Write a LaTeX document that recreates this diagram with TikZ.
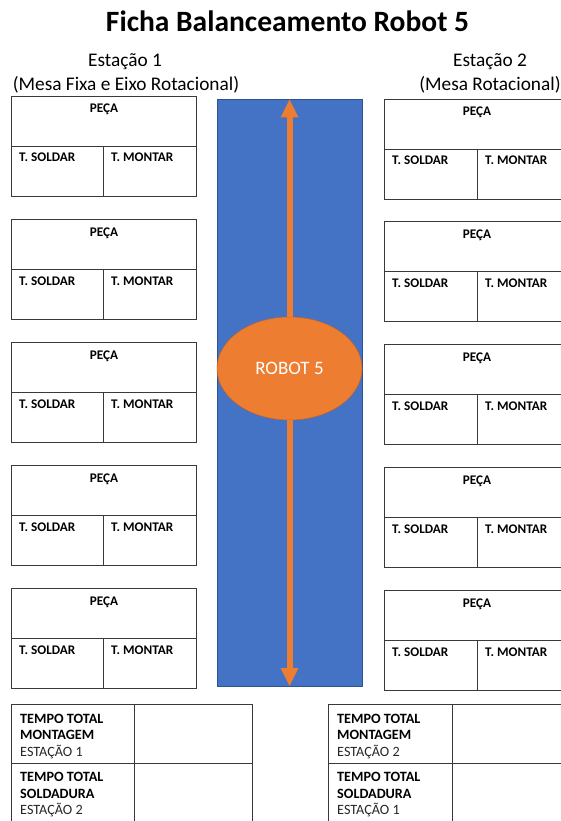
\documentclass[tikz,border=0pt]{standalone}
\usepackage{fontspec}
\setmainfont{Carlito}
\usetikzlibrary{arrows.meta,shapes.geometric}
\definecolor{trackblue}{HTML}{4472C4}
\definecolor{trackedge}{HTML}{2F528F}
\definecolor{robotorange}{HTML}{ED7D31}
\definecolor{robotedge}{HTML}{C8651E}
\definecolor{gridline}{HTML}{3A3A3A}
\newcommand\setfs[1]{\fontsize{#1}{#1}\selectfont}

\begin{document}
\begin{tikzpicture}[x=1pt,y=-1pt,
  cell/.style={draw=gridline, line width=0.9pt},
  lbl/.style={inner sep=0pt, font=\setfs{13.2}\bfseries},
  sumb/.style={inner sep=0pt, anchor=base west, font=\setfs{14.2}\bfseries},
  sumr/.style={inner sep=0pt, anchor=base west, font=\setfs{14.2}, text=black!85},
  head/.style={inner sep=0pt, anchor=base, font=\setfs{19.3}},
  travel/.style={draw=robotorange, line width=6pt,
    -{Triangle[width=18pt,length=18pt,line width=0pt]}}]
\useasboundingbox (0,0) rectangle (561,821);

% title and station headings
\node[inner sep=0pt, anchor=base, font=\setfs{29.5}\bfseries] (title) at (287.5,32) {Ficha Balanceamento Robot 5};
\node[head] (st1) at (125,67) {Estação 1};
\node[head] (st1b) at (126,91) {(Mesa Fixa e Eixo Rotacional)};
\node[head] (st2) at (490,67) {Estação 2};
\node[head] (st2b) at (490,91) {(Mesa Rotacional)};

% station 1 part cards
\foreach \i in {0,...,4} {
  \pgfmathsetmacro\t{96+123*\i}
  \draw[cell] (11,\t) rectangle (196,\t+100);
  \draw[cell] (11,\t+50) -- (196,\t+50);
  \draw[cell] (103,\t+50) -- (103,\t+100);
  \node[lbl, anchor=base] (lpeca\i) at (104,\t+17) {PEÇA};
  \node[lbl, anchor=base west] (lsold\i) at (19,\t+66) {T. SOLDAR};
  \node[lbl, anchor=base west] (lmont\i) at (111,\t+66) {T. MONTAR};
}

% station 2 part cards
\foreach \i in {0,...,4} {
  \pgfmathsetmacro\t{99+122.8*\i}
  \draw[cell] (384,\t) rectangle (575,\t+100);
  \draw[cell] (384,\t+50) -- (575,\t+50);
  \draw[cell] (477,\t+50) -- (477,\t+100);
  \node[lbl, anchor=base] (rpeca\i) at (477,\t+17) {PEÇA};
  \node[lbl, anchor=base west] (rsold\i) at (392,\t+66) {T. SOLDAR};
  \node[lbl, anchor=base west] (rmont\i) at (485,\t+66) {T. MONTAR};
}

% robot travel track
\node[draw=trackedge, fill=trackblue, line width=0.9pt, minimum width=145pt,
  minimum height=587pt, inner sep=0pt] (track) at (289.5,392.5) {};
\coordinate (tiptop) at (289.5,99.5);
\coordinate (tipbot) at (289.5,686);
\node[ellipse, fill=robotorange, draw=robotedge, line width=0.5pt,
  minimum width=145pt, minimum height=103pt, inner sep=0pt,
  text=white, font=\setfs{19}] (robot) at (289.5,368.5) {ROBOT 5};
\draw[travel] (robot.north) -- (tiptop);
\draw[travel] (robot.south) -- (tipbot);

% total time summaries
\draw[cell] (11,704) rectangle (252,830);
\draw[cell] (11,763) -- (252,763);
\draw[cell] (134,704) -- (134,830);
\draw[cell] (328,704) rectangle (575,830);
\draw[cell] (328,763) -- (575,763);
\draw[cell] (452,704) -- (452,830);

\node[sumb] (a1) at (20,723) {TEMPO TOTAL};
\node[sumb] (a2) at (20,739.5) {MONTAGEM};
\node[sumr] (a3) at (20,756) {ESTAÇÃO 1};
\node[sumb] (b1) at (20,781.5) {TEMPO TOTAL};
\node[sumb] (b2) at (20,798) {SOLDADURA};
\node[sumr] (b3) at (20,814.5) {ESTAÇÃO 2};

\node[sumb] (c1) at (337,723) {TEMPO TOTAL};
\node[sumb] (c2) at (337,739.5) {MONTAGEM};
\node[sumr] (c3) at (337,756) {ESTAÇÃO 2};
\node[sumb] (d1) at (337,781.5) {TEMPO TOTAL};
\node[sumb] (d2) at (337,798) {SOLDADURA};
\node[sumr] (d3) at (337,814.5) {ESTAÇÃO 1};
\end{tikzpicture}
\end{document}
